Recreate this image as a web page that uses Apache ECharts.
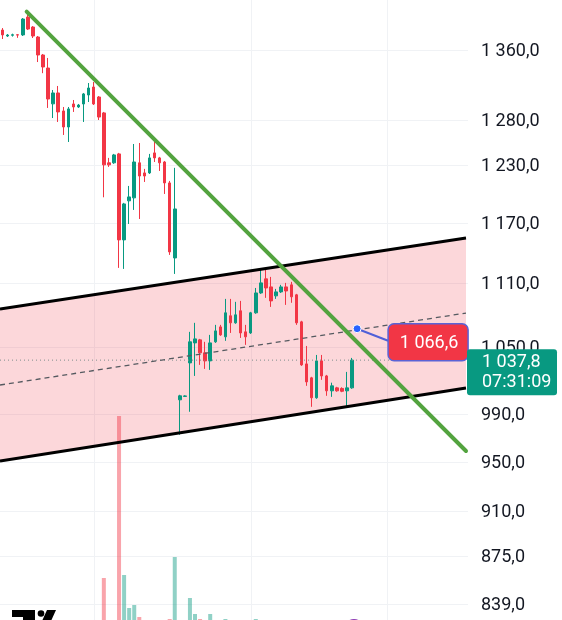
<!DOCTYPE html>
<html><head><meta charset="utf-8">
<script src="https://cdn.jsdelivr.net/npm/echarts@6/dist/echarts.min.js"></script>
<style>html,body{margin:0;padding:0;background:#fff}#c{width:562px;height:620px}</style>
</head><body><div id="c"></div>
<script>
// ---- data ----
const priceTicks = [1360, 1280, 1230, 1170, 1110, 1050, 990, 950, 910, 875, 839];
// [open, close, low, high]
const ohlc = [
  [1383.9,1378.0,1373.1,1386.3],[1376.7,1377.9,1375.5,1379.1],[1377.6,1378.2,1376.0,1379.5],[1378.2,1377.8,1374.5,1379.0],
  [1378.0,1397.2,1376.7,1398.4],[1399.6,1385.1,1383.9,1404.6],[1387.5,1376.7,1374.3,1388.7],[1375.5,1354.1,1345.8,1376.7],
  [1354.1,1340.0,1332.8,1355.3],[1338.8,1303.1,1293.0,1350.6],[1297.6,1310.0,1281.7,1313.4],[1310.0,1288.5,1277.3,1318.0],
  [1289.6,1271.7,1262.9,1294.1],[1271.7,1291.9,1255.2,1294.1],[1297.5,1294.1,1288.5,1302.0],[1294.1,1296.3,1293.0,1297.5],
  [1297.5,1308.9,1277.3,1310.0],[1307.7,1315.7,1299.7,1321.4],[1316.8,1297.5,1296.3,1322.6],[1305.4,1282.8,1279.5,1306.5],
  [1287.4,1230.4,1196.1,1288.5],[1232.6,1230.4,1228.2,1237.9],[1232.6,1241.1,1231.5,1242.2],[1242.2,1152.5,1124.7,1243.3],
  [1152.5,1189.2,1123.7,1190.3],[1192.4,1196.5,1168.6,1208.0],[1195.5,1233.5,1183.0,1253.0],[1232.6,1218.5,1173.7,1254.1],
  [1221.8,1218.5,1212.2,1226.1],[1221.8,1237.9,1220.7,1242.2],[1243.3,1237.9,1233.5,1256.3],[1237.9,1232.6,1223.9,1239.0],
  [1233.5,1211.2,1199.6,1234.6],[1211.2,1140.5,1137.5,1213.3],[1134.5,1184.0,1118.8,1227.2],[1002.5,1006.0,972.4,1006.9],
  [1005.5,1005.9,1005.1,1006.5],[1035.3,1054.5,992.1,1063.7],[1053.5,1057.2,1023.6,1072.1],[1056.3,1044.4,1033.5,1057.2],
  [1044.4,1037.1,1029.9,1054.5],[1037.1,1053.5,1029.0,1060.9],[1054.5,1064.6,1053.5,1070.2],[1068.3,1060.9,1060.0,1070.2],
  [1059.1,1081.5,1055.4,1094.7],[1078.7,1072.1,1062.7,1094.7],[1072.1,1079.6,1071.2,1091.9],[1083.4,1062.7,1058.1,1092.8],
  [1063.7,1059.1,1051.7,1070.2],[1062.7,1081.5,1061.8,1082.4],[1081.5,1100.4,1080.6,1105.2],[1100.4,1110.1,1099.5,1122.7],
  [1114.0,1105.2,1095.7,1122.7],[1106.2,1092.8,1087.1,1115.9],[1097.6,1101.4,1094.7,1104.3],[1101.4,1106.2,1100.4,1108.2],
  [1106.2,1102.3,1089.0,1110.1],[1108.2,1096.7,1091.0,1111.1],[1098.6,1072.1,1070.2,1099.5],[1073.0,1033.5,1032.6,1074.0],
  [1034.4,1018.3,1014.8,1050.7],[1021.9,1004.3,996.4,1022.8],[1004.3,1037.1,1003.4,1042.5],[1037.1,1023.6,1020.1,1042.5],
  [1023.6,1010.4,1006.0,1024.5],[1010.4,1014.8,1005.1,1017.6],[1013.0,1010.4,1009.6,1013.9],[1012.5,1010.0,1009.2,1013.5],
  [1010.4,1013.0,996.4,1027.2],[1013.0,1037.8,1012.2,1039.8]
];
const volume = [12,8,6,7,14,16,10,15,12,18,14,12,11,13,7,6,12,10,13,12,
  62,10,9,224,65,32,35,23,12,14, 15,11,17,21,83,18,6,42,26,21,
  17,26,16,14,21,19,15,18,14,19, 21,20,12,15,10,9,13,14,18,19,
  17,16,14,12,11,9,6,7,12,10];
const channelUpper = [[0, 1085.5], [91, 1154.0]];
const channelLower = [[0, 950.7], [91, 1012.5]];
const trendLine = [[5, 1404.7], [91, 960.9]];
const calloutPoint = [70, 1066.6];
const lastPrice = 1037.8;
const countdown = '07:31:09';
const timeGridIdx = [18, 49, 76];
const slotCount = 92;
const categories = Array.from({length: slotCount}, (_, i) => 'B' + i);

// ---- helpers ----
const UP = '#089981', DOWN = '#f23645';
function fmtPrice(v) {
  const s = Number(v).toFixed(1).split('.');
  return s[0].replace(/\B(?=(\d{3})+(?!\d))/g, ' ') + ',' + s[1];
}
function extend(p1, p2, x0, x1) {
  const k = (p2[1] - p1[1]) / (p2[0] - p1[0]);
  return [[x0, p1[1] + k * (x0 - p1[0])], [x1, p1[1] + k * (x1 - p1[0])]];
}
const volData = volume.map((v, i) => ({
  value: v,
  itemStyle: {color: ohlc[i][1] >= ohlc[i][0] ? 'rgba(8,153,129,0.45)' : 'rgba(242,54,69,0.45)'}
}));
const dummy = [[0, lastPrice]];

const chart = echarts.init(document.getElementById('c'), null, {renderer: 'canvas'});
chart.setOption({
  animation: false,
  backgroundColor: '#ffffff',
  grid: [
    {left: 0, right: 96, top: 0, bottom: 0},
    {left: 0, right: 96, top: 400, bottom: 0}
  ],
  xAxis: [
    {type: 'category', data: categories, gridIndex: 0, boundaryGap: true,
     axisLine: {show: false}, axisTick: {show: false}, axisLabel: {show: false}, splitLine: {show: false}},
    {type: 'category', data: categories, gridIndex: 1, boundaryGap: true,
     axisLine: {show: false}, axisTick: {show: false}, axisLabel: {show: false}, splitLine: {show: false}}
  ],
  yAxis: [
    {type: 'log', gridIndex: 0, position: 'right', min: 827.4, max: 1420.6,
     axisLine: {show: false}, axisTick: {show: false}, splitLine: {show: false},
     axisLabel: {show: false}},
    {type: 'value', gridIndex: 1, min: 20, max: 240, show: false, splitLine: {show: false}}
  ],
  series: [
    { // grid lines + price scale labels
      type: 'custom', xAxisIndex: 0, yAxisIndex: 0, z: 0, silent: true, data: dummy,
      renderItem(params, api) {
        const r = params.coordSys;
        const ch = [];
        priceTicks.forEach(t => {
          const yc = api.coord([0, t])[1];
          const y = Math.round(yc) + 0.5;
          ch.push({type: 'line', shape: {x1: r.x, y1: y, x2: r.x + r.width + 2, y2: y},
                   style: {stroke: '#f0f2f5', lineWidth: 1}});
          ch.push({type: 'text', style: {x: r.x + r.width + 15, y: yc + 1.5, text: fmtPrice(t),
                   fill: '#131722', font: '18px Roboto', align: 'left', verticalAlign: 'middle'}});
        });
        timeGridIdx.forEach(i => {
          const x = Math.round(api.coord([i, lastPrice])[0]) + 0.5;
          ch.push({type: 'line', shape: {x1: x, y1: r.y, x2: x, y2: r.y + r.height},
                   style: {stroke: '#f0f2f5', lineWidth: 1}});
        });
        return {type: 'group', children: ch};
      }
    },
    { // channel fill
      type: 'custom', xAxisIndex: 0, yAxisIndex: 0, z: 1, silent: true, data: dummy,
      renderItem(params, api) {
        const r = params.coordSys;
        const u = extend(api.coord(channelUpper[0]), api.coord(channelUpper[1]), r.x, r.x + r.width);
        const l = extend(api.coord(channelLower[0]), api.coord(channelLower[1]), r.x, r.x + r.width);
        return {type: 'polygon', shape: {points: [u[0], u[1], l[1], l[0]]},
                style: {fill: 'rgba(242,54,69,0.2)'}};
      }
    },
    {
      type: 'bar', xAxisIndex: 1, yAxisIndex: 1, z: 2, barWidth: 4, data: volData, silent: true
    },
    {
      type: 'candlestick', xAxisIndex: 0, yAxisIndex: 0, z: 3, barWidth: 3, data: ohlc,
      itemStyle: {color: UP, color0: DOWN, borderColor: UP, borderColor0: DOWN, borderWidth: 1}
    },
    { // channel lines + dashed mid + last price line
      type: 'custom', xAxisIndex: 0, yAxisIndex: 0, z: 4, silent: true, data: dummy,
      renderItem(params, api) {
        const r = params.coordSys;
        const u = extend(api.coord(channelUpper[0]), api.coord(channelUpper[1]), r.x, r.x + r.width);
        const l = extend(api.coord(channelLower[0]), api.coord(channelLower[1]), r.x, r.x + r.width);
        const m = [[u[0][0], (u[0][1] + l[0][1]) / 2], [u[1][0], (u[1][1] + l[1][1]) / 2]];
        const py = api.coord([0, lastPrice])[1];
        return {type: 'group', children: [
          {type: 'line', shape: {x1: r.x, y1: py, x2: r.x + r.width, y2: py},
           style: {stroke: '#7f8f8c', lineWidth: 1, lineDash: [1, 3]}},
          {type: 'line', shape: {x1: m[0][0], y1: m[0][1], x2: m[1][0], y2: m[1][1]},
           style: {stroke: '#555a60', lineWidth: 1.3, lineDash: [5, 4]}},
          {type: 'line', shape: {x1: u[0][0], y1: u[0][1], x2: u[1][0], y2: u[1][1]},
           style: {stroke: '#000000', lineWidth: 3}},
          {type: 'line', shape: {x1: l[0][0], y1: l[0][1], x2: l[1][0], y2: l[1][1]},
           style: {stroke: '#000000', lineWidth: 3}}
        ]};
      }
    },
    { // green trend line
      type: 'custom', xAxisIndex: 0, yAxisIndex: 0, z: 5, silent: true, data: dummy,
      renderItem(params, api) {
        const r = params.coordSys;
        const a = api.coord(trendLine[0]);
        const e = extend(a, api.coord(trendLine[1]), a[0] - 1.2, r.x + r.width);
        return {type: 'line', shape: {x1: e[0][0], y1: e[0][1], x2: e[1][0], y2: e[1][1]},
                style: {stroke: '#53a33f', lineWidth: 4, lineCap: 'round'}};
      }
    },
    { // callout
      type: 'custom', xAxisIndex: 0, yAxisIndex: 0, z: 6, silent: true, data: dummy,
      renderItem(params, api) {
        const p = api.coord(calloutPoint);
        const bx = p[0] + 31, by = p[1] - 5;
        return {type: 'group', children: [
          {type: 'line', shape: {x1: p[0], y1: p[1], x2: bx, y2: by + 17},
           style: {stroke: '#5060d8', lineWidth: 2}},
          {type: 'rect', shape: {x: bx, y: by, width: 80, height: 37, r: 6},
           style: {fill: '#f23645', stroke: '#5a63d6', lineWidth: 1.5}},
          {type: 'text', style: {x: bx + 41, y: by + 20, text: fmtPrice(calloutPoint[1]),
            fill: '#ffffff', font: '18px Roboto', align: 'center', verticalAlign: 'middle'}},
          {type: 'circle', shape: {cx: p[0], cy: p[1], r: 4},
           style: {fill: '#2962ff', stroke: '#ffffff', lineWidth: 1}}
        ]};
      }
    },
    { // last price label
      type: 'custom', xAxisIndex: 0, yAxisIndex: 0, z: 7, silent: true, data: dummy,
      renderItem(params, api) {
        const r = params.coordSys;
        const y = api.coord([0, lastPrice])[1];
        const x0 = r.x + r.width + 1;
        return {type: 'group', children: [
          {type: 'rect', shape: {x: x0, y: y - 11, width: 90, height: 46, r: 3}, style: {fill: '#089981'}},
          {type: 'text', style: {x: x0 + 15, y: y + 2, text: fmtPrice(lastPrice), fill: '#ffffff',
            font: '18px Roboto', align: 'left', verticalAlign: 'middle'}},
          {type: 'text', style: {x: x0 + 15, y: y + 22, text: countdown, fill: '#ffffff',
            font: '18px Roboto', align: 'left', verticalAlign: 'middle'}}
        ]};
      }
    }
  ],
  graphic: [
    {type: 'rect', shape: {x: 12, y: 610, width: 23, height: 7}, style: {fill: '#000'}, z: 20},
    {type: 'rect', shape: {x: 23, y: 616, width: 12, height: 5}, style: {fill: '#000'}, z: 20},
    {type: 'circle', shape: {cx: 41, cy: 613.5, r: 3.3}, style: {fill: '#000'}, z: 20},
    {type: 'polygon', shape: {points: [[47, 610], [56, 610], [51, 621], [42, 621]]}, style: {fill: '#000'}, z: 20},
    {type: 'circle', shape: {cx: 354, cy: 629, r: 10}, style: {fill: '#8e3bb4'}, z: 20}
  ]
});
</script></body></html>
